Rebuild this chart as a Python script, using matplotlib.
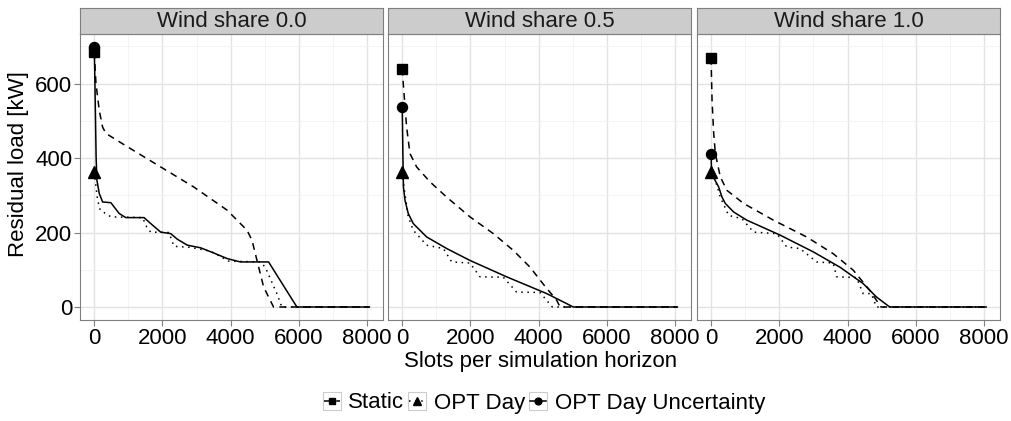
import matplotlib
matplotlib.use("Agg")
import matplotlib.pyplot as plt
from matplotlib.lines import Line2D
from matplotlib.patches import Rectangle

plt.rcParams['font.family'] = ['Liberation Sans', 'DejaVu Sans']

# ---------------------------------------------------------------------------
# Data: sorted residual load per slot (duration curves), one set per wind share
# ---------------------------------------------------------------------------
wind_shares = ["0.0", "0.5", "1.0"]
series_names = ["Static", "OPT Day", "OPT Day Uncertainty"]
x_ticks = [0, 2000, 4000, 6000, 8000]
y_ticks = [0, 200, 400, 600]
n_slots = 8064

# Wind share 0.0
static_x_00 = [0, 50, 146, 245, 342, 975, 1947, 2920, 3895, 4479, 4625, 4771, 4964, 5255, 8064]
static_y_00 = [685, 600, 528, 483, 466, 430, 376, 322, 260, 206, 179, 125, 54, 0, 0]
optday_x_00 = [0, 29, 99, 175, 488, 1416, 1539, 1655, 2190, 2336, 2823, 3407, 3943, 4867, 5013, 5353, 5500, 8064]
optday_y_00 = [362, 340, 287, 260, 242, 240, 215, 201, 200, 163, 160, 150, 123, 121, 107, 36, 0, 0]
unc_x_00 = [0, 20, 55, 79, 146, 245, 488, 730, 925, 1460, 1655, 1947, 2240, 2435, 2727, 3115, 3504, 3895, 4283, 5110, 5940, 8064]
unc_y_00 = [698, 600, 400, 340, 305, 282, 280, 251, 240, 240, 224, 201, 197, 182, 166, 159, 145, 130, 121, 121, 0, 0]

# Wind share 0.5
static_x_05 = [0, 29, 128, 226, 422, 812, 1302, 1985, 2669, 3255, 3745, 4180, 4528, 4625, 8064]
static_y_05 = [640, 600, 483, 412, 376, 336, 295, 242, 197, 152, 107, 56, 18, 0, 0]
optday_x_05 = [0, 50, 176, 323, 715, 1205, 1449, 1985, 2279, 2962, 3353, 4038, 4400, 8064]
optday_y_05 = [362, 322, 242, 206, 166, 157, 121, 118, 81, 80, 40, 39, 0, 0]
unc_x_05 = [0, 20, 35, 79, 176, 323, 715, 1302, 1985, 3060, 4235, 5015, 8064]
unc_y_05 = [536, 400, 322, 287, 251, 224, 188, 157, 125, 81, 36, 0, 0]

# Wind share 1.0
static_x_10 = [0, 29, 77, 126, 272, 467, 954, 1830, 2803, 3582, 4166, 4651, 4980, 8064]
static_y_10 = [669, 555, 466, 412, 349, 313, 278, 233, 188, 143, 99, 45, 0, 0]
optday_x_10 = [0, 126, 272, 515, 905, 1245, 1927, 2219, 2608, 3095, 3582, 3680, 4263, 4457, 4700, 4847, 8064]
optday_y_10 = [362, 340, 295, 246, 237, 201, 197, 161, 157, 121, 118, 81, 79, 36, 36, 0, 0]
unc_x_10 = [0, 15, 60, 224, 321, 418, 662, 1051, 2024, 2997, 3776, 4457, 4847, 5236, 8064]
unc_y_10 = [412, 362, 350, 322, 295, 278, 255, 233, 193, 148, 107, 63, 27, 0, 0]

panel_data = [
    [(static_x_00, static_y_00), (optday_x_00, optday_y_00), (unc_x_00, unc_y_00)],
    [(static_x_05, static_y_05), (optday_x_05, optday_y_05), (unc_x_05, unc_y_05)],
    [(static_x_10, static_y_10), (optday_x_10, optday_y_10), (unc_x_10, unc_y_10)],
]

# ---------------------------------------------------------------------------
# Styles
# ---------------------------------------------------------------------------
LW = 1.1
line_styles = {
    "Static": dict(dashes=(4.5, 3.5), marker="s", ms=7.0),
    "OPT Day": dict(dashes=(1, 3), marker="^", ms=8.0),
    "OPT Day Uncertainty": dict(dashes=None, marker="o", ms=7.2),
}
BORDER = "#7F7F7F"
STRIP_FILL = "#CCCCCC"
GRID_MAJOR = "#E3E3E3"
GRID_MINOR = "#F2F2F2"
FS = 16

W, H = 1012, 421
fig = plt.figure(figsize=(W / 100, H / 100), dpi=100)


def frac_rect(left, top, right, bottom):
    return [left / W, 1 - bottom / H, (right - left) / W, (bottom - top) / H]


panel_lefts = [80.5, 388.5, 697.3]
panel_w = 302.6
panel_top, panel_bottom = 34.0, 320.0
strip_top = 7.5

y_max = 698
x_pad = n_slots * 0.05
y_pad = y_max * 0.05

for i, share in enumerate(wind_shares):
    left = panel_lefts[i]
    ax = fig.add_axes(frac_rect(left, panel_top, left + panel_w, panel_bottom))
    ax.set_xlim(-x_pad, n_slots + x_pad)
    ax.set_ylim(-y_pad, y_max + y_pad)
    ax.set_xticks(x_ticks)
    ax.set_xticks([1000, 3000, 5000, 7000], minor=True)
    ax.set_yticks(y_ticks)
    ax.set_yticks([100, 300, 500, 700], minor=True)
    ax.grid(which="major", color=GRID_MAJOR, lw=1.0, zorder=0)
    ax.grid(which="minor", color=GRID_MINOR, lw=0.6, zorder=0)
    ax.set_axisbelow(True)
    ax.tick_params(which="minor", length=0)
    ax.tick_params(which="major", length=4.3, width=0.8, color=BORDER,
                   labelsize=FS, labelcolor="black", pad=1.5)
    if i > 0:
        ax.tick_params(axis="y", which="both", length=0, labelleft=False)
    for sp in ax.spines.values():
        sp.set_color(BORDER)
        sp.set_linewidth(0.8)

    for name, (xs, ys) in zip(series_names, panel_data[i]):
        st = line_styles[name]
        ln, = ax.plot(xs, ys, color="black", lw=LW, zorder=3)
        if st["dashes"] is not None:
            ln.set_dashes(st["dashes"])
        ln.set_dash_capstyle("butt")
    for name, (xs, ys) in zip(series_names, panel_data[i]):
        st = line_styles[name]
        ax.plot(xs[:1], ys[:1], ls="none", marker=st["marker"], ms=st["ms"],
                color="black", zorder=4)

    # facet strip
    sax = fig.add_axes(frac_rect(left, strip_top, left + panel_w, panel_top))
    sax.set_facecolor(STRIP_FILL)
    sax.set_xticks([])
    sax.set_yticks([])
    for sp in sax.spines.values():
        sp.set_color(BORDER)
        sp.set_linewidth(0.8)
    sax.text(0.5, 0.47, f"Wind share {share}", ha="center", va="center",
             fontsize=FS, color="#1A1A1A", transform=sax.transAxes)

# axis titles
fig.text(540.3 / W, 1 - 366.5 / H, "Slots per simulation horizon",
         ha="center", va="baseline", fontsize=FS)
fig.text(19 / W, 1 - 163.7 / H, "Residual load [kW]", ha="center",
         va="center", rotation=90, fontsize=FS)

# legend at the bottom: boxed keys followed by labels
lax = fig.add_axes([0, 0, 1, 1], zorder=-1)
lax.set_xlim(0, W)
lax.set_ylim(H, 0)
lax.axis("off")
renderer = fig.canvas.get_renderer()
key = 18.0
gap_key_text = 7.5
gap_text_key = 4.0
texts = []
for name in series_names:
    t = lax.text(0, 0, name, fontsize=FS)
    texts.append(t)
widths = [t.get_window_extent(renderer).width for t in texts]
for t in texts:
    t.remove()
total = sum(key + gap_key_text + w for w in widths) + gap_text_key * (len(widths) - 1)
x0 = 544.0 - total / 2
key_top = 391.5
cy = key_top + key / 2
for name, w in zip(series_names, widths):
    st = line_styles[name]
    lax.add_patch(Rectangle((x0, key_top), key, key, facecolor="white",
                            edgecolor="#CCCCCC", lw=0.8))
    kl = Line2D([x0 + 1, x0 + key - 1], [cy, cy], color="black", lw=LW)
    if st["dashes"] is not None:
        kl.set_dashes(st["dashes"])
    lax.add_line(kl)
    lax.add_line(Line2D([x0 + key / 2], [cy], ls="none", marker=st["marker"],
                        ms=st["ms"] * 0.68, color="black"))
    lax.text(x0 + key + gap_key_text, 408.5, name, fontsize=FS, va="baseline",
             ha="left")
    x0 += key + gap_key_text + w + gap_text_key

fig.savefig("out.png", dpi=100)
